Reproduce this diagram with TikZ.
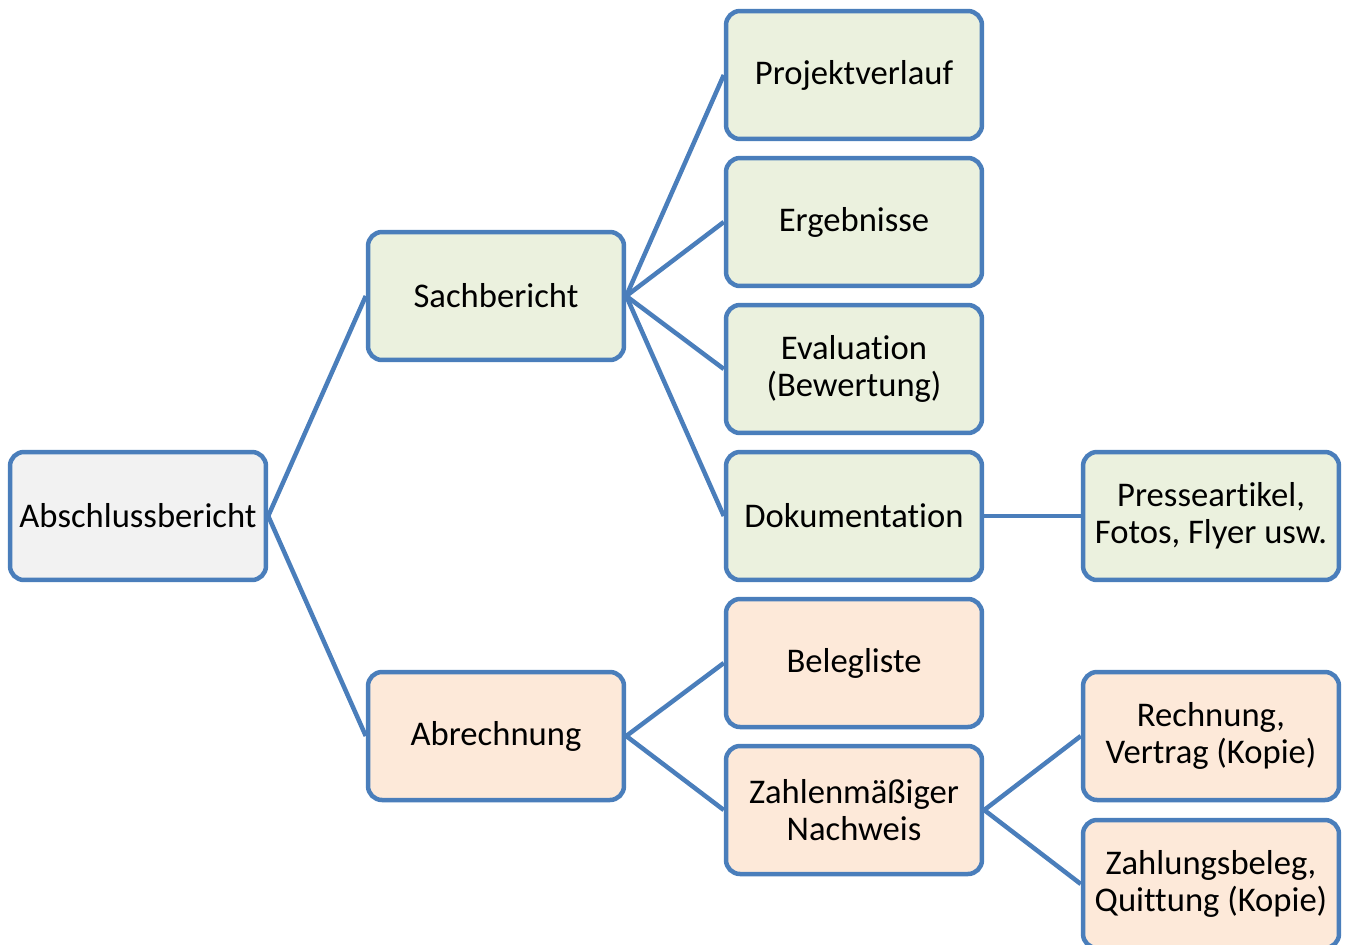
\documentclass[tikz,border=0pt]{standalone}
\usepackage{fontspec}
\setmainfont{Carlito}[RawFeature={-liga;-clig;-calt;-dlig}]
\usepackage{xcolor}
\usetikzlibrary{positioning, calc}
\definecolor{boxline}{HTML}{4A7EBB}
\definecolor{rootfill}{HTML}{F2F2F2}
\definecolor{reportfill}{HTML}{EBF1DE}
\definecolor{billfill}{HTML}{FDE9D9}
\tikzset{
	box/.style={rectangle, draw=boxline, line width=0.09cm, rounded corners=0.28cm, minimum width=5.12cm, minimum height=2.56cm, align=center, inner sep=2pt, font=\fontsize{19.7pt}{21pt}\selectfont},
	link/.style={draw=boxline, line width=0.09cm}
}

\begin{document}
\begin{tikzpicture}[
	x=0.02cm, y=-0.02cm,
	root/.style={box, fill=rootfill},
	report/.style={box, fill=reportfill},
	bill/.style={box, fill=billfill}
	]
	
	\useasboundingbox (0,0) rectangle (1349,944);
	\clip (0,0) rectangle (1349,944);
	
	% Main levels
	\node[root] (abschluss) at (138,516) {Abschlussbericht};
	\node[report] (sachbericht) at (496,296) {Sachbericht};
	\node[bill] (abrechnung) at (496,736) {Abrechnung};
	
	\draw[link] (abschluss.east) -- (sachbericht.west);
	\draw[link] (abschluss.east) -- (abrechnung.west);
	
	%
	% Sachbericht column
	%
	\node[report] (projektverlauf) at (854,75) {Projektverlauf};
	\node[report] (ergebnisse) at ($(projektverlauf)+(0,147)$) {Ergebnisse};
	\node[report] (evaluation) at ($(ergebnisse)+(0,147)$) {Evaluation\\(Bewertung)};
	\node[report] (dokumentation) at ($(evaluation)+(0,147)$) {Dokumentation};
	\node[report] (presse) at ($(dokumentation)+(357,0)$) {Presseartikel,\\Fotos, Flyer usw.};
	
	\draw[link] (sachbericht.east) -- (projektverlauf.west);
	\draw[link] (sachbericht.east) -- (ergebnisse.west);
	\draw[link] (sachbericht.east) -- (evaluation.west);
	\draw[link] (sachbericht.east) -- (dokumentation.west);
	\draw[link] (dokumentation.east) -- (presse.west);
	
	%
	% Abrechnung column
	%
	\node[bill] (belegliste) at ($(dokumentation)+(0,147)$) {Belegliste};
	\node[bill] (nachweis) at ($(belegliste)+(0,147)$) {Zahlenmäßiger\\Nachweis};
	\node[bill] (rechnung) at (1211,736) {Rechnung,\\Vertrag (Kopie)};
	\node[bill] (zahlungsbeleg) at ($(rechnung)+(0,148)$) {Zahlungsbeleg,\\Quittung (Kopie)};
	
	\draw[link] (abrechnung.east) -- (belegliste.west);
	\draw[link] (abrechnung.east) -- (nachweis.west);
	\draw[link] (nachweis.east) -- (rechnung.west);
	\draw[link] (nachweis.east) -- (zahlungsbeleg.west);
	
\end{tikzpicture}
\end{document}
